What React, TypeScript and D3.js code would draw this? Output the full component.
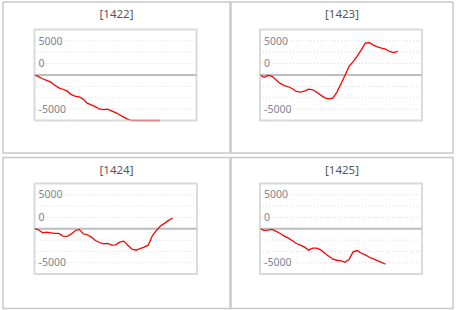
import React from "react";
import * as d3 from "d3";

const titles = ["[1422]", "[1423]", "[1424]", "[1425]"];

const series1422 = [0, -370, -820, -1190, -1570, -2240, -2830, -3130, -3500, -4250, -4620, -4780, -5300, -6190, -6560, -6940, -7460, -7610, -7530, -7900, -8280, -8730, -9250, -9700, -10000, -10300, -10600, -10900, -11000, -11200, -11500, -11600];
const series1423 = [0, -520, -70, -300, -1110, -1850, -2360, -2580, -3030, -3620, -3760, -3540, -3100, -3250, -3760, -4430, -5020, -5240, -5090, -3760, -1920, -70, 1920, 2950, 4130, 5530, 7010, 7080, 6570, 6200, 5900, 5680, 5170, 4940, 5170];
const series1424 = [0, -220, -890, -740, -890, -1040, -1040, -1630, -1700, -1190, -440, -150, -1110, -1330, -1850, -2590, -3040, -3330, -3260, -3630, -3560, -2960, -2740, -3630, -4520, -4740, -4370, -4070, -3630, -1560, -370, 590, 1190, 1850, 2370];
const series1425 = [0, -370, -300, -150, -590, -1040, -1630, -2070, -2670, -3260, -3630, -4070, -4740, -4300, -4300, -4670, -5410, -6070, -6740, -6960, -7110, -7410, -6740, -5110, -4810, -5410, -5780, -6300, -6670, -7040, -7410, -7850];

const tickValues = [5000, 0, -5000];
const gridValues = [7500, 5000, 2500, -2500, -5000, -7500];
const yDomain: [number, number] = [-10000, 10000];
const xDomain: [number, number] = [0, 40];

const allSeries = [series1422, series1423, series1424, series1425];

const panels = [
  { box: [3, 2, 227, 151], plot: [34.5, 29.5, 162, 91] },
  { box: [231, 2, 222, 151], plot: [260, 29.5, 162, 91] },
  { box: [3, 157.5, 227, 151], plot: [34.5, 183.5, 162.5, 90.5] },
  { box: [231, 157.5, 222, 151], plot: [260, 183.5, 162, 90.5] },
];

const FONT = "'Noto Sans', 'Open Sans', sans-serif";

function Panel({ idx }: { idx: number }) {
  const p = panels[idx];
  const [bx, by, bw, bh] = p.box;
  const [px, py, pw, ph] = p.plot;
  const data = allSeries[idx];
  const x = d3.scaleLinear().domain(xDomain).range([px, px + pw]);
  const y = d3.scaleLinear().domain(yDomain).range([py + ph, py]).clamp(true);
  const step = Math.abs(y(2500) - y(0));
  const line = d3
    .line<number>()
    .x((_, i) => x(i))
    .y((d) => y(d));
  return (
    <g>
      <rect x={bx} y={by} width={bw} height={bh} fill="#fff" stroke="#c9c9c9" strokeWidth={1.5} />
      <text x={bx + bw / 2} y={by + 16} textAnchor="middle" fontFamily={FONT} fontSize={11.5} fill="#555">
        {titles[idx]}
      </text>
      {gridValues.map((v) => (
        <line key={v} x1={px} x2={px + pw} y1={y(v)} y2={y(v)} stroke="#dcdcdc" strokeWidth={1} strokeDasharray="1,2" />
      ))}
      <line x1={px} x2={px + pw} y1={y(0)} y2={y(0)} stroke="#bdbdbd" strokeWidth={2} />
      <path d={line(data) || ""} fill="none" stroke="#ff0000" strokeWidth={1.3} />
      <rect x={px} y={py} width={pw} height={ph} fill="none" stroke="#cacaca" strokeOpacity={0.69} strokeWidth={2} />
      {tickValues.map((v) => (
        <text
          key={v}
          x={px + 4}
          y={y(v) + (v < 0 ? step : -step)}
          dy="0.35em"
          fontFamily={FONT}
          fontSize={10.5}
          fill="#7f8590"
        >
          {v}
        </text>
      ))}
    </g>
  );
}

export default function App() {
  return (
    <svg width={456} height={310} style={{ position: "absolute", left: 0, top: 0, background: "#fff" }}>
      <rect x={0} y={0} width={456} height={310} fill="#fff" />
      {panels.map((_, i) => (
        <Panel key={i} idx={i} />
      ))}
    </svg>
  );
}
